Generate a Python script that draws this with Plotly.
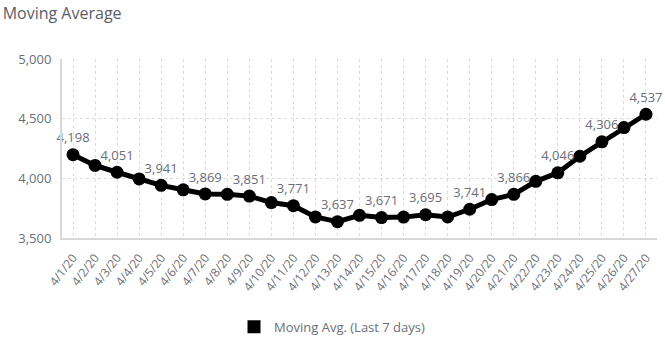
import plotly.graph_objects as go

dates = [f"4/{d}/20" for d in range(1, 28)]
moving_avg = [4198, 4108, 4051, 3995, 3941, 3904, 3869, 3866, 3851, 3797,
              3771, 3677, 3637, 3690, 3671, 3675, 3695, 3676, 3741, 3822,
              3866, 3975, 4046, 4185, 4306, 4425, 4537]
series_name = "Moving Avg. (Last 7 days)"
y_ticks = [3500, 4000, 4500, 5000]

# label every other point
labels = [f"{v:,}" if i % 2 == 0 else "" for i, v in enumerate(moving_avg)]

fig = go.Figure()
fig.add_trace(go.Scatter(
    x=dates, y=moving_avg, mode="lines+markers+text",
    text=labels, textposition="top center",
    textfont=dict(family="Open Sans", size=13, color="#6b6e78"),
    line=dict(color="#000000", width=5),
    marker=dict(color="#000000", size=13),
    showlegend=False, cliponaxis=False,
))
# legend swatch as a square
fig.add_trace(go.Scatter(
    x=[None], y=[None], mode="markers", name=series_name,
    marker=dict(color="#000000", size=13, symbol="square"),
))

grid = "#dcdcdc"
fig.update_layout(
    width=665, height=344,
    margin=dict(l=62, r=8, t=59, b=106),
    paper_bgcolor="white", plot_bgcolor="white",
    font=dict(family="Open Sans", color="#666a73"),
    title=dict(text="Moving Average", x=0.004, xanchor="left", y=0.96, yanchor="middle",
               font=dict(family="Open Sans", size=16, color="#5a5e69")),
    xaxis=dict(type="category", range=[-0.5, 26.5], tickangle=-52,
               tickfont=dict(size=12, color="#6b6e78"),
               showgrid=True, gridcolor=grid, griddash="dot",
               showline=True, linecolor="#d8d8d8", linewidth=2,
               ticks="", zeroline=False, ticklabelstandoff=6),
    yaxis=dict(range=[3500, 5000], tickvals=y_ticks, tickformat=",",
               tickfont=dict(size=13, color="#6b6e78"),
               showgrid=True, gridcolor=grid, griddash="dot",
               showline=True, linecolor="#d8d8d8", linewidth=2,
               ticks="", zeroline=False, ticklabelstandoff=6),
    legend=dict(orientation="h", xref="container", yref="container",
                x=0.5, xanchor="center", y=0.05, yanchor="middle",
                font=dict(size=13, color="#6b6e78")),
)

fig.write_html("out.html")
